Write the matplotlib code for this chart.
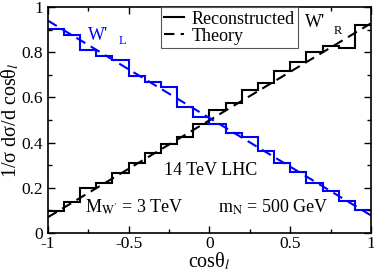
import numpy as np
import matplotlib
matplotlib.use("Agg")
import matplotlib.pyplot as plt
from matplotlib.ticker import MultipleLocator

plt.rcParams["font.family"] = ["Liberation Serif", "DejaVu Serif"]
plt.rcParams["mathtext.fontset"] = "stix"
plt.rcParams["axes.unicode_minus"] = False

# bin edges of the reconstructed distributions (20 bins in cos theta)
edges = np.linspace(-1, 1, 21)
reco_R = [0.097, 0.139, 0.200, 0.223, 0.264, 0.311, 0.353, 0.396, 0.425, 0.481,
          0.544, 0.577, 0.633, 0.665, 0.718, 0.757, 0.800, 0.826, 0.818, 0.920]
reco_L = [0.905, 0.877, 0.812, 0.785, 0.764, 0.694, 0.670, 0.648, 0.557, 0.515,
          0.481, 0.444, 0.424, 0.362, 0.308, 0.271, 0.223, 0.187, 0.142, 0.102]

# theory curves (straight lines)
theory_x = [-1.0, 1.0]
theory_R = [0.070, 0.928]
theory_L = [0.940, 0.078]

xticks = [-1, -0.5, 0, 0.5, 1]
xticklabels = ["-1", "-0.5", "0", "0.5", "1"]
yticks = [0, 0.2, 0.4, 0.6, 0.8, 1]
yticklabels = ["0", "0.2", "0.4", "0.6", "0.8", "1"]

blue = "#0000ff"

fig = plt.figure(figsize=(3.74, 2.71), dpi=100)
ax = fig.add_axes([0.128, 0.140, 0.864, 0.834])

ax.stairs(reco_R, edges, baseline=None, color="black", lw=1.5, label="Reconstructed")
ax.plot(theory_x, theory_R, color="black", lw=1.5, ls=(0, (5, 3)), label="Theory")
ax.stairs(reco_L, edges, baseline=None, color=blue, lw=1.5)
ax.plot(theory_x, theory_L, color=blue, lw=1.5, ls=(0, (5, 3)))

ax.set_xlim(-1, 1)
ax.set_ylim(0, 1)
ax.set_xticks(xticks)
ax.set_xticklabels(xticklabels)
ax.set_yticks(yticks)
ax.set_yticklabels(yticklabels)
ax.xaxis.set_minor_locator(MultipleLocator(0.25))
ax.yaxis.set_minor_locator(MultipleLocator(0.1))
ax.tick_params(which="both", direction="in", top=True, right=True, labelsize=12.5)
ax.tick_params(which="major", length=5, width=1)
ax.tick_params(which="minor", length=3, width=1)
ax.tick_params(axis="x", pad=2)
for s in ax.spines.values():
    s.set_linewidth(1.2)

ax.set_xlabel("cosθ$_{\\mathit{l}}$", fontsize=14.5, labelpad=-1)
ax.set_ylabel("1/σ dσ/d cosθ$_{\\mathit{l}}$", fontsize=14.5, labelpad=0)

leg = ax.legend(loc="upper left", bbox_to_anchor=(0.349, 1.0), borderaxespad=0,
                fancybox=False, edgecolor="#555555", fontsize=13,
                handlelength=1.1, handletextpad=0.4, borderpad=0.2,
                labelspacing=0.0, framealpha=1)
leg.get_frame().set_linewidth(0.8)

ax.text(-0.75, 0.855, "W'", color=blue, fontsize=13)
ax.text(-0.56, 0.835, "L", color=blue, fontsize=9)
ax.text(0.59, 0.91, "W'", color="black", fontsize=13)
ax.text(0.77, 0.88, "R", color="black", fontsize=9)

ax.text(0.006, 0.255, "14 TeV LHC", fontsize=13, ha="center")
ax.text(-0.772, 0.09, "M$_{\\mathrm{W}'}$ = 3 TeV", fontsize=13)
ax.text(0.05, 0.09, "m$_{\\mathrm{N}}$ = 500 GeV", fontsize=13)

fig.savefig("out.png", dpi=100)
